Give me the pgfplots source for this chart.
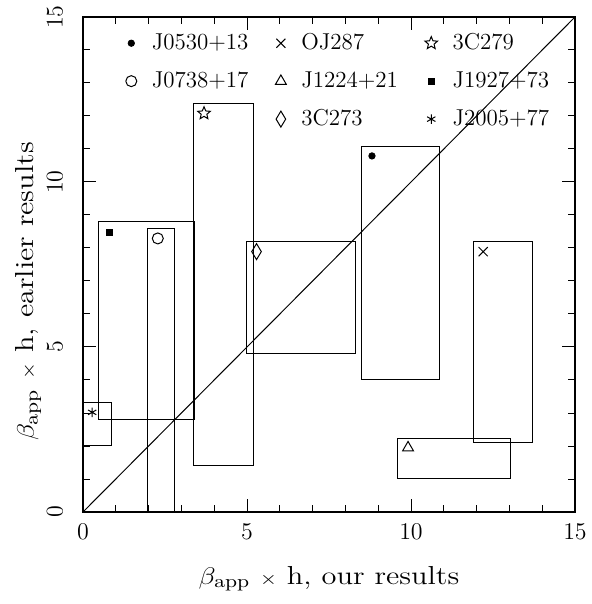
\documentclass[border=0pt]{standalone}
\usepackage{pgfplots}
\pgfplotsset{compat=1.18}
\pgfdeclareplotmark{ostar}{%
  \pgfpathmoveto{\pgfpointpolar{90}{\pgfplotmarksize}}%
  \pgfpathlineto{\pgfpointpolar{126}{0.45\pgfplotmarksize}}%
  \pgfpathlineto{\pgfpointpolar{162}{\pgfplotmarksize}}%
  \pgfpathlineto{\pgfpointpolar{198}{0.45\pgfplotmarksize}}%
  \pgfpathlineto{\pgfpointpolar{234}{\pgfplotmarksize}}%
  \pgfpathlineto{\pgfpointpolar{270}{0.45\pgfplotmarksize}}%
  \pgfpathlineto{\pgfpointpolar{306}{\pgfplotmarksize}}%
  \pgfpathlineto{\pgfpointpolar{342}{0.45\pgfplotmarksize}}%
  \pgfpathlineto{\pgfpointpolar{18}{\pgfplotmarksize}}%
  \pgfpathlineto{\pgfpointpolar{54}{0.45\pgfplotmarksize}}%
  \pgfpathclose\pgfusepathqstroke}
\begin{document}
\begin{tikzpicture}
\begin{axis}[
  scale only axis, width=246pt, height=247.5pt,
  xmin=0, xmax=15, ymin=0, ymax=15,
  xtick={0,5,10,15}, ytick={0,5,10,15},
  minor tick num=4,
  tick align=inside, tick pos=both,
  major tick length=6.3pt, minor tick length=3.3pt,
  every tick/.style={black, line width=0.5pt},
  axis line style={line width=0.6pt},
  tick label style={font=\fontsize{11.5}{13}\selectfont},
  xticklabel style={inner ysep=6pt},
  yticklabel style={rotate=90, anchor=south, inner ysep=10pt},
  label style={font=\fontsize{13}{15}\selectfont},
  xlabel={$\beta_{\mathrm{app}}$ {\fontsize{9}{9}\selectfont$\times$} h, our results},
  ylabel={$\beta_{\mathrm{app}}$ {\fontsize{9}{9}\selectfont$\times$} h, earlier results},
  xlabel style={at={(axis description cs:0.5,-0.1455)}, anchor=base, xscale=1.17},
  ylabel style={at={(axis description cs:-0.0996,0.4455)}, anchor=base, xscale=1.17},
  legend columns=3,
  legend cell align=left,
  legend style={draw=none, fill=none, inner sep=0pt, at={(axis cs:0.94,14.63)}, anchor=north west,
    font=\fontsize{11.5}{13}\selectfont, row sep=5.5pt,
    /tikz/every odd column/.append style={column sep=5.5pt},
    /tikz/every even column/.append style={column sep=11.5pt}},
]
% boxes
\addplot[black, line width=0.5pt, forget plot] coordinates {(8.48,4.03)(10.88,4.03)(10.88,11.09)(8.48,11.09)} -- cycle;
\addplot[black, line width=0.5pt, forget plot] coordinates {(11.9,2.12)(13.71,2.12)(13.71,8.19)(11.9,8.19)} -- cycle;
\addplot[black, line width=0.5pt, forget plot] coordinates {(3.37,1.42)(5.19,1.42)(5.19,12.38)(3.37,12.38)} -- cycle;
\addplot[black, line width=0.5pt, forget plot] coordinates {(1.98,0)(2.78,0)(2.78,8.6)(1.98,8.6)} -- cycle;
\addplot[black, line width=0.5pt, forget plot] coordinates {(9.6,1.02)(13.02,1.02)(13.02,2.22)(9.6,2.22)} -- cycle;
\addplot[black, line width=0.5pt, forget plot] coordinates {(0.47,2.81)(3.39,2.81)(3.39,8.8)(0.47,8.8)} -- cycle;
\addplot[black, line width=0.5pt, forget plot] coordinates {(4.98,4.81)(8.3,4.81)(8.3,8.19)(4.98,8.19)} -- cycle;
\addplot[black, line width=0.5pt, forget plot] coordinates {(0,2.01)(0.88,2.01)(0.88,3.32)(0,3.32)} -- cycle;
% diagonal
\addplot[black, line width=0.5pt, forget plot] coordinates {(0,0)(15,15)};
% points
\addplot[black, only marks, mark=*, mark size=1.6pt] coordinates {(8.81,10.79)};
\addlegendentry{J0530+13}
\addplot[black, only marks, mark=x, mark size=3.2pt, line width=0.5pt] coordinates {(12.2,7.89)};
\addlegendentry{OJ287}
\addplot[black, only marks, mark=ostar, mark size=3.3pt, line width=0.5pt] coordinates {(3.69,12.08)};
\addlegendentry{3C279}
\addplot[black, only marks, mark=o, mark size=2.75pt, line width=0.5pt] coordinates {(2.28,8.29)};
\addlegendentry{J0738+17}
\addplot[black, only marks, mark=triangle, mark size=3.1pt, line width=0.5pt] coordinates {(9.91,1.95)};
\addlegendentry{J1224+21}
\addplot[black, only marks, mark=square*, mark size=1.5pt] coordinates {(0.79,8.48)};
\addlegendentry{J1927+73}
\addlegendimage{empty legend}
\addlegendentry{}
\addplot[black, only marks, mark=diamond, mark size=4pt, line width=0.5pt, mark options={xscale=0.8}] coordinates {(5.29,7.89)};
\addlegendentry{3C273}
\addplot[black, only marks, mark=asterisk, mark size=2.4pt, line width=0.5pt] coordinates {(0.28,3.02)};
\addlegendentry{J2005+77}
\end{axis}
\pgfresetboundingbox
\path ([shift={(-41.5pt,-46pt)}]current axis.south west) rectangle ([shift={(8pt,8.5pt)}]current axis.north east);
\end{tikzpicture}
\end{document}
